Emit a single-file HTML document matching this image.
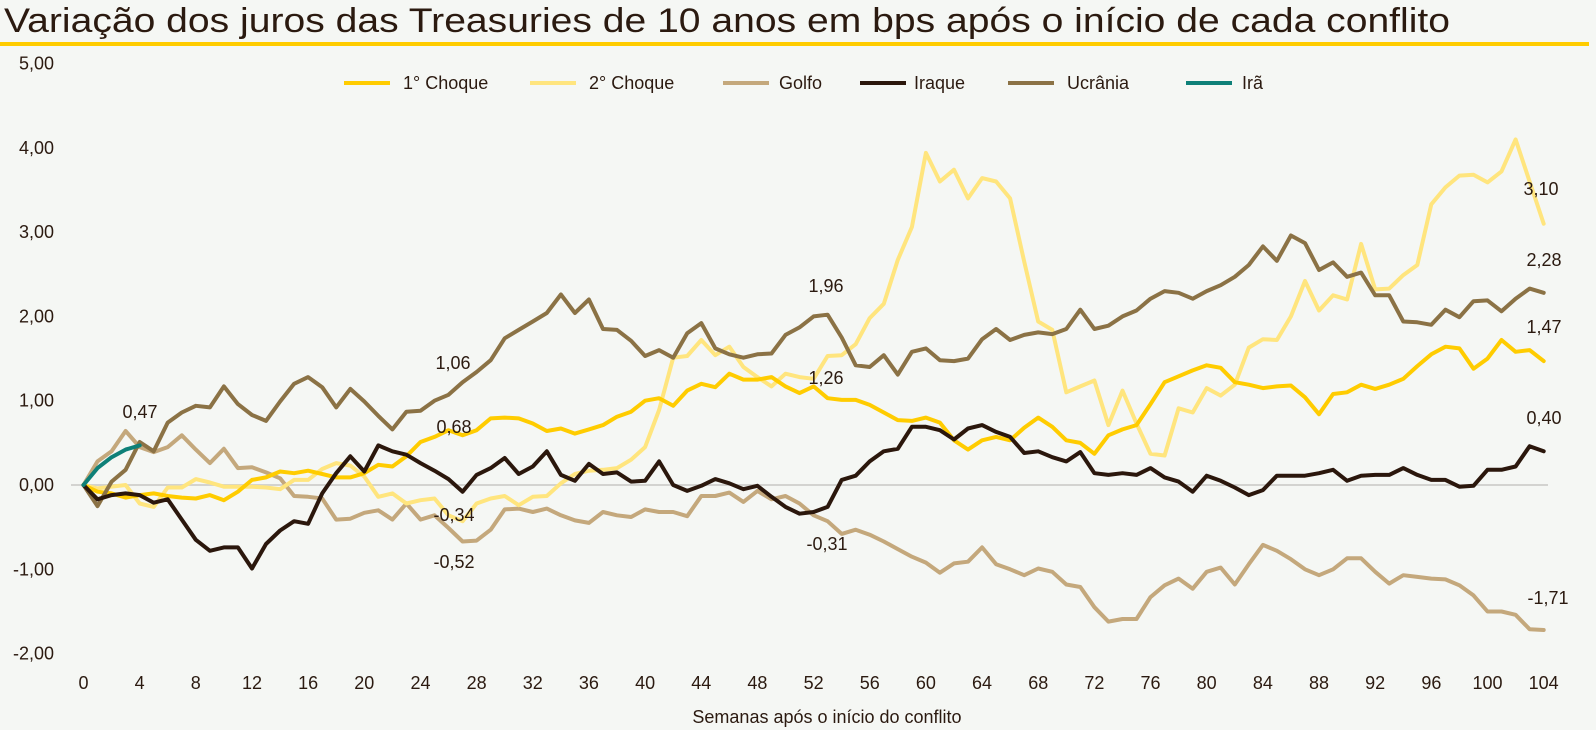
<!DOCTYPE html>
<html><head><meta charset="utf-8"><style>
html,body{margin:0;padding:0;background:#F5F7F4;}
svg{display:block;font-family:"Liberation Sans",sans-serif;}
</style></head><body>
<svg id="chart" width="1596" height="730" viewBox="0 0 1596 730">
<rect x="0" y="0" width="1596" height="730" fill="#F5F7F4"/>
<text x="4" y="32" font-size="34" fill="#2B1A10" textLength="1446" lengthAdjust="spacingAndGlyphs">Variação dos juros das Treasuries de 10 anos em bps após o início de cada conflito</text>
<rect x="0" y="42" width="1589" height="4" fill="#FFCC00"/>
<g id="axes"></g>
<g id="series"></g>
<g id="labels"></g>
<g id="legend"></g>
<text x="827" y="723" font-size="18" fill="#2B1A10" text-anchor="middle">Semanas após o início do conflito</text>
</svg>
<script>
const weeks = Array.from({length:105},(_,i)=>i);
const yTicks = [5,4,3,2,1,0,-1,-2];
const yTickLabels = ["5,00","4,00","3,00","2,00","1,00","0,00","-1,00","-2,00"];
const xTicks = [0,4,8,12,16,20,24,28,32,36,40,44,48,52,56,60,64,68,72,76,80,84,88,92,96,100,104];
const seriesNames = ["1° Choque","2° Choque","Golfo","Iraque","Ucrânia","Irã"];
const choque1 = [0,-0.08,-0.1,-0.15,-0.12,-0.1,-0.13,-0.15,-0.16,-0.12,-0.18,-0.08,0.06,0.09,0.16,0.14,0.17,0.13,0.09,0.09,0.14,0.24,0.22,0.34,0.51,0.57,0.65,0.59,0.65,0.79,0.8,0.79,0.73,0.64,0.67,0.61,0.66,0.71,0.81,0.87,1.0,1.03,0.94,1.12,1.2,1.16,1.32,1.25,1.25,1.28,1.17,1.09,1.17,1.03,1.01,1.01,0.95,0.86,0.77,0.76,0.8,0.74,0.53,0.42,0.53,0.57,0.53,0.68,0.8,0.69,0.53,0.5,0.37,0.59,0.66,0.71,0.96,1.22,1.29,1.36,1.42,1.39,1.22,1.19,1.15,1.17,1.18,1.04,0.84,1.08,1.1,1.19,1.14,1.19,1.26,1.41,1.55,1.64,1.62,1.38,1.5,1.72,1.58,1.6,1.47];
const choque2 = [0,-0.04,-0.02,0,-0.22,-0.26,-0.03,-0.03,0.07,0.03,-0.02,-0.02,-0.02,-0.03,-0.05,0.06,0.06,0.19,0.26,0.23,0.1,-0.14,-0.1,-0.22,-0.18,-0.16,-0.36,-0.43,-0.22,-0.16,-0.13,-0.24,-0.14,-0.13,0.02,0.13,0.17,0.18,0.2,0.3,0.45,0.89,1.51,1.53,1.72,1.54,1.64,1.4,1.28,1.17,1.32,1.28,1.26,1.53,1.54,1.67,1.98,2.15,2.67,3.06,3.94,3.6,3.74,3.4,3.64,3.6,3.4,2.65,1.94,1.84,1.1,1.17,1.24,0.71,1.12,0.73,0.37,0.35,0.91,0.86,1.15,1.06,1.19,1.63,1.73,1.72,2.0,2.42,2.07,2.25,2.2,2.86,2.32,2.33,2.49,2.61,3.33,3.53,3.67,3.68,3.59,3.72,4.1,3.6,3.1];
const golfo = [0,0.28,0.4,0.64,0.45,0.39,0.45,0.59,0.42,0.26,0.43,0.2,0.21,0.15,0.08,-0.13,-0.14,-0.16,-0.41,-0.4,-0.33,-0.3,-0.41,-0.22,-0.41,-0.36,-0.51,-0.67,-0.66,-0.53,-0.29,-0.28,-0.32,-0.28,-0.36,-0.42,-0.45,-0.32,-0.36,-0.38,-0.29,-0.32,-0.32,-0.37,-0.13,-0.13,-0.09,-0.2,-0.07,-0.17,-0.13,-0.22,-0.36,-0.43,-0.58,-0.53,-0.59,-0.67,-0.76,-0.85,-0.92,-1.04,-0.93,-0.91,-0.74,-0.94,-1.0,-1.07,-0.99,-1.03,-1.18,-1.21,-1.45,-1.62,-1.59,-1.59,-1.33,-1.19,-1.11,-1.23,-1.03,-0.98,-1.18,-0.94,-0.71,-0.78,-0.88,-1.0,-1.07,-1.0,-0.87,-0.87,-1.03,-1.17,-1.07,-1.09,-1.11,-1.12,-1.19,-1.31,-1.5,-1.5,-1.54,-1.71,-1.72];
const iraque = [0,-0.17,-0.12,-0.1,-0.12,-0.21,-0.17,-0.41,-0.65,-0.78,-0.74,-0.74,-0.99,-0.7,-0.54,-0.43,-0.46,-0.1,0.14,0.34,0.16,0.47,0.4,0.36,0.26,0.17,0.07,-0.08,0.12,0.2,0.32,0.13,0.22,0.4,0.12,0.05,0.25,0.13,0.15,0.04,0.05,0.28,0,-0.07,-0.01,0.07,0.02,-0.05,-0.01,-0.14,-0.26,-0.34,-0.32,-0.26,0.06,0.11,0.28,0.4,0.43,0.69,0.69,0.65,0.54,0.67,0.71,0.63,0.57,0.38,0.4,0.33,0.28,0.39,0.14,0.12,0.14,0.12,0.2,0.09,0.04,-0.08,0.11,0.05,-0.03,-0.12,-0.06,0.11,0.11,0.11,0.14,0.18,0.05,0.11,0.12,0.12,0.2,0.12,0.06,0.06,-0.02,-0.01,0.18,0.18,0.22,0.46,0.4];
const ucrania = [0,-0.25,0.04,0.18,0.51,0.4,0.74,0.86,0.94,0.92,1.17,0.96,0.83,0.76,0.99,1.2,1.28,1.16,0.92,1.14,0.99,0.82,0.66,0.87,0.88,1.0,1.07,1.22,1.34,1.48,1.74,1.84,1.94,2.04,2.26,2.04,2.2,1.85,1.84,1.71,1.53,1.6,1.51,1.8,1.92,1.62,1.55,1.51,1.55,1.56,1.78,1.87,2.0,2.02,1.75,1.42,1.4,1.54,1.31,1.58,1.62,1.48,1.47,1.5,1.73,1.85,1.72,1.78,1.81,1.79,1.85,2.08,1.85,1.89,2.0,2.07,2.21,2.3,2.28,2.21,2.3,2.37,2.47,2.61,2.83,2.66,2.96,2.87,2.55,2.64,2.47,2.52,2.25,2.25,1.94,1.93,1.9,2.08,1.99,2.18,2.19,2.06,2.21,2.33,2.28];
const ira = [0,0.2,0.33,0.42,0.47];
const endLabels = ["0,47","1,06","0,68","-0,34","-0,52","1,96","1,26","-0,31","3,10","2,28","1,47","0,40","-1,71"];

const NS="http://www.w3.org/2000/svg";
const X0=83.5, XW=14.04, Y0=485, YU=84.3;
function xs(w){return X0+XW*w;}
function ys(v){return Y0-YU*v;}
function mk(tag,attrs,parent){const e=document.createElementNS(NS,tag);for(const k in attrs)e.setAttribute(k,attrs[k]);parent.appendChild(e);return e;}

const axes=document.getElementById('axes');
yTicks.forEach((t,i)=>{
  const e=mk('text',{x:54,y:ys(t)+6,'font-size':18,fill:'#2B1A10','text-anchor':'end'},axes);
  e.textContent=yTickLabels[i];
  
  
});
const zl=mk('line',{x1:71,x2:1548,y1:ys(0),y2:ys(0),stroke:'#D3D3D0','stroke-width':2},axes);


xTicks.forEach(t=>{
  const e=mk('text',{x:xs(t),y:689,'font-size':18,fill:'#2B1A10','text-anchor':'middle'},axes);
  e.textContent=String(t);
  
  
});

const colors=["#FFCC00","#FFE57E","#C4A87C","#2B170C","#8B7245","#0E8078"];
const datasets=[choque1,choque2,golfo,iraque,ucrania,ira];
const order=[2,1,0,4,3,5];
const sg=document.getElementById('series');
order.forEach(i=>{
  const d=datasets[i].map((v,w)=>(w?'L':'M')+xs(weeks[w]).toFixed(1)+','+ys(v).toFixed(1)).join(' ');
  const p=mk('path',{d:d,fill:'none',stroke:colors[i],'stroke-width':4,'stroke-linejoin':'round','stroke-linecap':'round'},sg);
  
  
});

const lblPos=[[140,412],[453,363],[454,427],[454,515],[454,562],[826,286],[826,378],[827,544],[1541,189],[1544,260],[1544,327],[1544,418],[1548,598]];
const lg=document.getElementById('labels');
endLabels.forEach((t,i)=>{
  const e=mk('text',{x:lblPos[i][0],y:lblPos[i][1]+6,'font-size':18,fill:'#2B1A10','text-anchor':'middle'},lg);
  e.textContent=t;
  
  
});

const legX=[[344,403],[530,589],[723,779],[860,914],[1008,1067],[1186,1242]];
const leg=document.getElementById('legend');
seriesNames.forEach((n,i)=>{
  const g=mk('g',{},leg);
  
  
  mk('line',{x1:legX[i][0],x2:legX[i][0]+46,y1:83,y2:83,stroke:colors[i],'stroke-width':4},g);
  const t=mk('text',{x:legX[i][1],y:89,'font-size':18,fill:'#2B1A10'},g);
  t.textContent=n;
});
</script>
</body></html>
